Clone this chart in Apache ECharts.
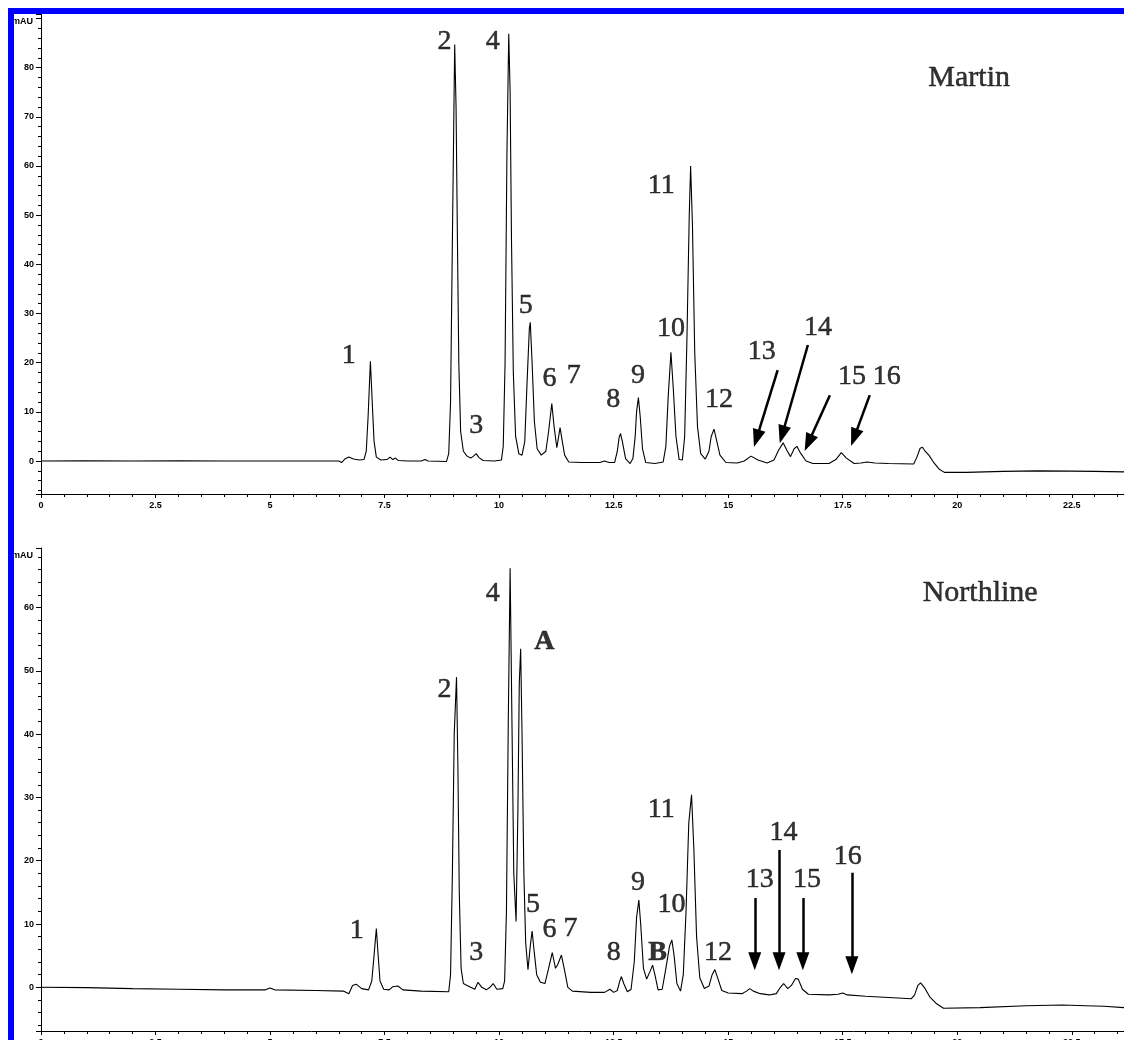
<!DOCTYPE html>
<html>
<head>
<meta charset="utf-8">
<script src="https://cdn.jsdelivr.net/npm/echarts@6.0.0/dist/echarts.min.js"></script>
<style>
html,body{margin:0;padding:0;background:#fff;}
#c{width:1124px;height:1040px;}
</style>
</head>
<body>
<div id="c"></div>
<script>
// ---------- DATA ----------
// retention time (min), absorbance (mAU)
const martinTrace = [
[0,0],[1.0,0.05],[2.0,0],[3.0,0.05],[4.0,0],[5.0,0],[6.0,0],[6.5,0],[6.56,-0.3],[6.63,0.4],[6.72,0.8],[6.82,0.4],[6.95,0.2],[7.05,0.3],
[7.1,2],[7.14,9],[7.19,20.3],[7.23,12],[7.27,4],[7.32,0.8],[7.42,0.2],[7.55,0.3],[7.62,0.8],[7.68,0.3],[7.74,0.6],[7.8,0.1],[8.0,0],[8.3,0],[8.38,0.3],[8.45,0],
[8.85,-0.1],[8.9,1.5],[8.94,12],[8.98,45],[9.03,84.7],[9.06,72],[9.09,45],[9.12,20],[9.16,6],[9.22,2],[9.3,1.0],[9.38,0.6],[9.44,1.0],[9.5,1.5],[9.56,0.7],[9.65,0.1],[9.9,0],
[10.05,0.2],[10.09,3],[10.13,20],[10.17,62],[10.21,86.9],[10.24,75],[10.27,45],[10.31,18],[10.36,5],[10.43,1.5],[10.5,1.2],
[10.56,4],[10.61,16],[10.66,27],[10.68,28.2],[10.72,20],[10.77,8],[10.83,2.5],[10.92,1.2],
[11.02,2],[11.08,6],[11.15,11.7],[11.2,7],[11.26,2.7],[11.3,5],[11.33,6.8],[11.37,4.5],[11.43,1.2],[11.52,-0.2],[11.8,-0.3],[12.2,-0.3],[12.3,0],[12.4,-0.3],
[12.52,-0.3],[12.58,2],[12.62,4.8],[12.65,5.6],[12.69,4],[12.76,0.5],[12.86,-0.5],
[12.92,0.5],[12.97,5],[13.0,10],[13.04,12.9],[13.08,9],[13.13,2.5],[13.2,-0.3],[13.4,-0.5],
[13.58,-0.2],[13.64,3],[13.69,13],[13.75,22.1],[13.8,15],[13.86,5],[13.93,0.3],
[14.0,0.2],[14.05,5],[14.1,25],[14.15,50],[14.18,60],[14.22,48],[14.27,22],[14.33,7],[14.4,1.5],[14.5,0.4],
[14.58,2],[14.63,5],[14.69,6.5],[14.74,4.5],[14.82,1.2],[14.95,-0.3],[15.2,-0.4],[15.35,0],[15.5,1.0],[15.65,0.2],[15.85,-0.4],
[16.0,0.2],[16.1,2.2],[16.2,3.7],[16.28,2.2],[16.36,0.9],[16.44,2.5],[16.5,3.0],[16.58,1.6],[16.7,0],[16.85,-0.5],[17.2,-0.5],
[17.35,0.3],[17.47,1.7],[17.58,0.6],[17.75,-0.5],[17.9,-0.4],[18.03,-0.2],[18.2,-0.4],[18.5,-0.5],[19.05,-0.6],
[19.12,0.8],[19.19,2.6],[19.24,2.8],[19.3,2.0],[19.38,1.2],[19.48,-0.2],[19.6,-1.6],[19.72,-2.3],[20.2,-2.3],[21.0,-2.1],[21.75,-2.0],[22.5,-2.05],[23.0,-2.1],[23.64,-2.2]
];

const northlineTrace = [
[0,0],[1.0,-0.05],[2.0,-0.2],[3.0,-0.3],[4.0,-0.4],[4.9,-0.4],[5.0,-0.1],[5.1,-0.4],[6.0,-0.5],[6.6,-0.6],[6.72,-1.0],[6.8,0.3],[6.88,0.5],[7.0,-0.2],[7.15,-0.4],
[7.22,1],[7.27,5],[7.32,9.3],[7.36,5],[7.4,1],[7.48,-0.3],[7.6,-0.4],[7.68,0.1],[7.72,-0.2],[7.79,0.2],[7.9,-0.4],[8.3,-0.6],[8.9,-0.7],
[8.94,2],[8.98,18],[9.02,40],[9.07,49],[9.1,35],[9.13,15],[9.17,3],[9.22,0.6],[9.3,0.3],[9.38,0],[9.47,-0.3],[9.54,0.8],[9.62,0],[9.72,-0.4],[9.8,0],[9.87,0.6],[9.95,-0.3],[10.08,-0.2],
[10.12,1],[10.16,12],[10.2,42],[10.24,66.2],[10.28,42],[10.32,18],[10.37,10.4],[10.41,28],[10.44,48],[10.47,53.5],[10.5,40],[10.54,18],[10.58,7],[10.63,2.8],
[10.68,6.5],[10.72,8.9],[10.76,6],[10.82,2],[10.9,0.8],[11.0,0.6],[11.08,3],[11.16,5.5],[11.23,3],[11.28,3.6],[11.36,5.1],[11.42,3],[11.5,0],[11.6,-0.6],
[12.0,-0.8],[12.3,-0.8],[12.42,-0.3],[12.5,-0.8],[12.58,-0.5],[12.63,0.9],[12.67,1.7],[12.72,0.6],[12.8,-0.7],
[12.88,-0.3],[12.95,4],[13.0,11],[13.05,13.8],[13.09,10],[13.15,3],[13.22,1.3],[13.3,2.6],[13.35,3.5],[13.4,2],[13.47,-0.4],
[13.56,-0.3],[13.64,3],[13.72,6.5],[13.77,7.5],[13.82,5],[13.88,0.6],[13.96,-0.6],
[14.02,2],[14.08,12],[14.14,26],[14.2,30.4],[14.25,22],[14.31,8],[14.38,1.5],[14.48,-0.2],
[14.58,0.2],[14.65,2],[14.71,2.8],[14.77,1.5],[14.86,-0.5],[15.0,-0.9],[15.3,-1.0],[15.4,-0.6],[15.47,-0.2],[15.55,-0.6],[15.7,-1.0],[15.9,-1.2],
[16.05,-1.0],[16.14,0],[16.21,0.6],[16.3,-0.2],[16.38,0.3],[16.47,1.4],[16.53,1.3],[16.62,-0.3],[16.75,-1.1],[17.2,-1.2],[17.4,-1.1],[17.5,-0.9],[17.6,-1.2],
[18.0,-1.4],[18.5,-1.6],[19.0,-1.8],[19.07,-1.2],[19.14,0.3],[19.2,0.7],[19.28,0],[19.4,-1.5],[19.55,-2.6],[19.7,-3.3],[20.5,-3.2],[21.5,-2.9],[22.3,-2.8],[22.8,-2.9],[23.2,-3.0],[23.64,-3.2]
];

// peak labels: [text, time, mAU]
const martinLabels = [
['1',6.72,21.5],['2',8.81,85.2],['3',9.50,7.3],['4',9.86,85.2],['5',10.58,31.5],['6',11.10,16.8],['7',11.63,17.3],
['8',12.49,12.4],['9',13.03,17.3],['10',13.75,27.0],['11',13.54,56.1],['12',14.80,12.4],
['13',15.73,22.2],['14',16.96,27.2],['15',17.70,17.1],['16',18.46,17.1]
];
const northlineLabels = [
['1',6.89,8.9],['2',8.81,47.0],['3',9.50,5.4],['4',9.86,62.2],['A',10.99,54.6],['5',10.74,13.0],['6',11.10,9.1],['7',11.56,9.3],
['8',12.50,5.5],['9',13.03,16.5],['B',13.46,5.4],['10',13.76,13.1],['11',13.54,28.0],['12',14.78,5.5],
['13',15.69,17.0],['14',16.21,24.4],['15',16.72,17.0],['16',17.61,20.6]
];
const boldLabels = ['A','B'];

// sample names: [text, time, mAU]
const martinName = ['Martin',20.26,77.8];
const northlineName = ['Northline',20.50,62.3];

// arrows: [fromTime, fromMAU, toTime, toMAU]
const martinArrows = [
[16.08,18.5,15.62,4.6],[16.74,23.6,16.18,5.4],[17.22,13.4,16.75,3.7],[18.09,13.4,17.75,4.8]
];
const northlineArrows = [
[15.58,14.1,15.58,4.1],[16.11,21.7,16.11,4.1],[16.63,14.1,16.63,4.1],[17.70,18.1,17.70,3.5]
];

// axis extents
const timeMax = 23.64;
const martinY = [-6.7, 90.9];
const northlineY = [-6.9, 69.4];

// ---------- CHART ----------
const serifFont = "'Liberation Serif','Times New Roman',serif";
const sansFont = "'Liberation Sans',Arial,sans-serif";

function xAxisFor(i){
  return {
    gridIndex:i, type:'value', min:0, max:timeMax, interval:2.5,
    axisLine:{show:true,onZero:false,lineStyle:{color:'#000',width:1}},
    axisTick:{show:true,length:4,lineStyle:{color:'#000',width:1}},
    minorTick:{show:true,splitNumber:5,length:3,lineStyle:{color:'#000',width:1}},
    splitLine:{show:false}, minorSplitLine:{show:false},
    axisLabel:{color:'#000',fontSize:9,fontWeight:'bold',fontFamily:sansFont,margin:7,showMaxLabel:false}
  };
}
function yAxisFor(i, ext, split){
  return {
    gridIndex:i, type:'value', min:ext[0], max:ext[1], splitNumber:split,
    axisLine:{show:true,lineStyle:{color:'#000',width:1}},
    axisTick:{show:true,length:5,lineStyle:{color:'#000',width:1}},
    minorTick:{show:true,splitNumber:5,length:3,lineStyle:{color:'#000',width:1}},
    splitLine:{show:false}, minorSplitLine:{show:false},
    axisLabel:{color:'#000',fontSize:9,fontWeight:'bold',fontFamily:sansFont,margin:7,showMinLabel:false,showMaxLabel:false,
      formatter: v => (v > ext[1] - 3 || v < ext[0] + 1) ? '' : String(v)},
    name:'mAU', nameLocation:'end', nameGap:-12,
    nameTextStyle:{color:'#000',fontSize:9,fontWeight:'bold',fontFamily:sansFont,align:'right',verticalAlign:'bottom',padding:[0,8,0,0]}
  };
}
function labelSeries(i, labels, name){
  const data = labels.map(l => ({
    name:l[0], value:[l[1],l[2]],
    label: boldLabels.indexOf(l[0])>=0 ? {fontWeight:'bold'} : {}
  }));
  data.push({name:name[0], value:[name[1],name[2]], label:{fontSize:30}});
  return {
    type:'scatter', xAxisIndex:i, yAxisIndex:i, symbolSize:1, itemStyle:{color:'rgba(0,0,0,0)'},
    silent:true, animation:false, data:data, z:5,
    label:{show:true,position:'inside',formatter:p=>p.name,color:'#000',fontSize:28,fontFamily:serifFont,
      textBorderColor:'#000',textBorderWidth:0.5}
  };
}
function traceSeries(i, trace, arrows){
  return {
    type:'line', xAxisIndex:i, yAxisIndex:i, data:trace, showSymbol:false, symbol:'none',
    lineStyle:{color:'#000',width:1.1}, animation:false, silent:true,
    markLine:{
      silent:true, animation:false, symbol:['none','triangle'], symbolSize:[13,18],
      lineStyle:{color:'#000',width:2.5,type:'solid'}, label:{show:false},
      emphasis:{disabled:true},
      data: arrows.map(a => [{coord:[a[0],a[1]]},{coord:[a[2],a[3]]}])
    }
  };
}

const chart = echarts.init(document.getElementById('c'), null, {renderer:'canvas'});
chart.setOption({
  backgroundColor:'#fff',
  animation:false,
  grid:[
    {left:41, right:0, top:14, height:480, containLabel:false, outerBoundsMode:'none'},
    {left:41, right:0, top:548, height:483, containLabel:false, outerBoundsMode:'none'}
  ],
  xAxis:[xAxisFor(0), xAxisFor(1)],
  yAxis:[yAxisFor(0, martinY, 10), yAxisFor(1, northlineY, 8)],
  series:[
    traceSeries(0, martinTrace, martinArrows),
    traceSeries(1, northlineTrace, northlineArrows),
    labelSeries(0, martinLabels, martinName),
    labelSeries(1, northlineLabels, northlineName)
  ],
  graphic:[
    {type:'rect', left:8, top:8, shape:{width:1116, height:6}, style:{fill:'#0000ff'}, z:100},
    {type:'rect', left:8, top:8, shape:{width:6, height:1032}, style:{fill:'#0000ff'}, z:100}
  ]
});
</script>
</body>
</html>
